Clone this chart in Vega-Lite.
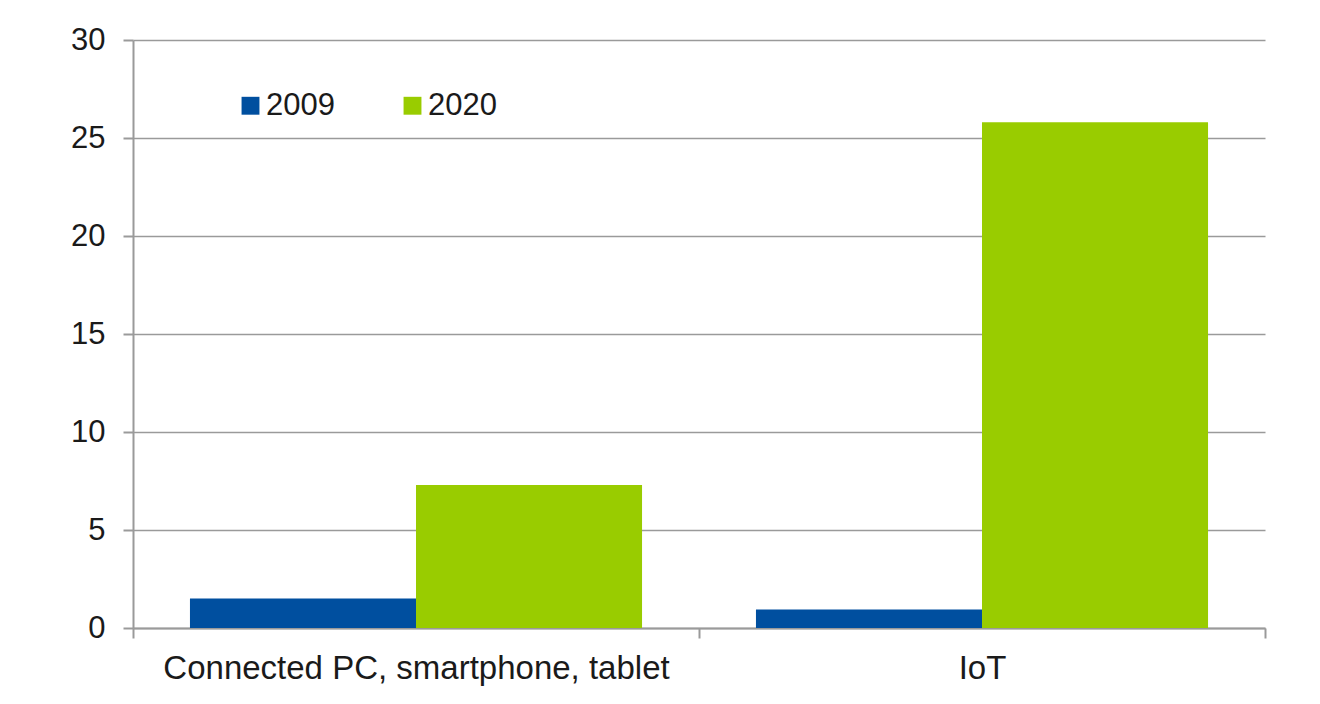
{
  "$schema": "https://vega.github.io/schema/vega-lite/v6.json",
  "autosize": {"type": "none"},
  "padding": {"left": 133, "top": 40, "right": 55, "bottom": 76},
  "width": 1132,
  "height": 588,
  "background": "white",
  "config": {
    "view": {"stroke": null},
    "font": "Liberation Sans",
    "axis": {
      "labelFont": "Liberation Sans",
      "labelFontSize": 31,
      "labelColor": "#1a1a1a",
      "labelLimit": 0,
      "domainColor": "#9a9a9a",
      "domainWidth": 2,
      "tickColor": "#9a9a9a",
      "tickWidth": 2,
      "tickSize": 10,
      "gridColor": "#9a9a9a",
      "gridWidth": 1.5,
      "gridOpacity": 1,
      "title": null
    }
  },
  "data": {
    "values": [
      {"category": "Connected PC, smartphone, tablet", "year": "2009", "value": 1.5},
      {"category": "Connected PC, smartphone, tablet", "year": "2020", "value": 7.3},
      {"category": "IoT", "year": "2009", "value": 0.95},
      {"category": "IoT", "year": "2020", "value": 25.8}
    ]
  },
  "mark": {"type": "bar"},
  "encoding": {
    "x": {
      "field": "category",
      "type": "nominal",
      "sort": null,
      "scale": {"paddingInner": 0, "paddingOuter": 0},
      "axis": {
        "labelAngle": 0,
        "tickBand": "extent",
        "labelPadding": 14,
        "labelFontSize": 33,
        "grid": false
      }
    },
    "xOffset": {
      "field": "year",
      "type": "nominal",
      "scale": {"paddingInner": 0, "paddingOuter": 0.252}
    },
    "y": {
      "field": "value",
      "type": "quantitative",
      "scale": {"domain": [0, 30], "nice": false},
      "axis": {
        "values": [0, 5, 10, 15, 20, 25, 30],
        "grid": true,
        "labelPadding": 18
      }
    },
    "color": {
      "field": "year",
      "type": "nominal",
      "scale": {"domain": ["2009", "2020"], "range": ["#004f9f", "#99cc00"]},
      "legend": {
        "title": null,
        "orient": "none",
        "direction": "horizontal",
        "legendX": 102,
        "legendY": 50,
        "symbolType": "square",
        "symbolSize": 320,
        "symbolStrokeWidth": 0,
        "labelFont": "Liberation Sans",
        "labelFontSize": 31,
        "labelColor": "#1a1a1a",
        "labelOffset": 0,
        "columnPadding": 62
      }
    }
  }
}
